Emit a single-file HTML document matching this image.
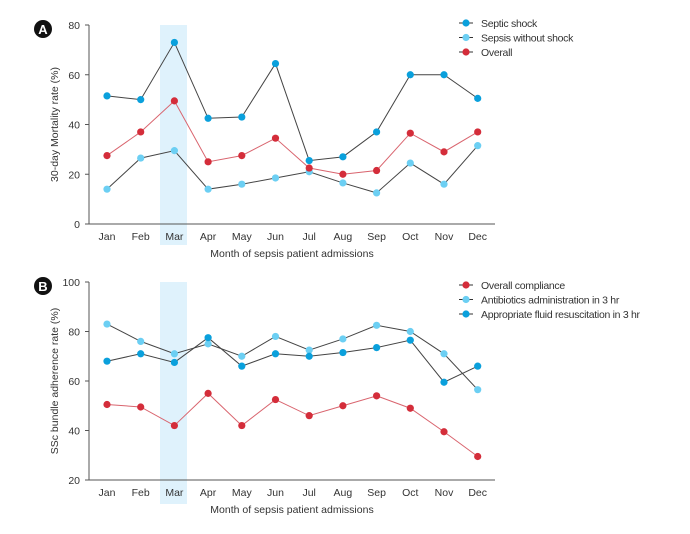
<!DOCTYPE html>
<html><head><meta charset="utf-8"><style>
body{margin:0;background:#fff}
svg text{font-family:"Liberation Sans",sans-serif;fill:#333}
</style></head><body>
<svg id="c" width="690" height="529" xmlns="http://www.w3.org/2000/svg"></svg>
<script>
const months=["Jan","Feb","Mar","Apr","May","Jun","Jul","Aug","Sep","Oct","Nov","Dec"];
const septicShock=[51.5,50,73,42.5,43,64.5,25.5,27,37,60,60,50.5];
const sepsisNoShock=[14,26.5,29.5,14,16,18.5,21,16.5,12.5,24.5,16,31.5];
const overallMortality=[27.5,37,49.5,25,27.5,34.5,22.5,20,21.5,36.5,29,37];
const overallCompliance=[50.5,49.5,42,55,42,52.5,46,50,54,49,39.5,29.5];
const antibiotics=[83,76,71,75,70,78,72.5,77,82.5,80,71,56.5];
const fluid=[68,71,67.5,77.5,66,71,70,71.5,73.5,76.5,59.5,66];
const ticksA=[0,20,40,60,80];
const ticksB=[20,40,60,80,100];
const NS="http://www.w3.org/2000/svg";
const svg=document.getElementById('c');
function el(t,a,p){const e=document.createElementNS(NS,t);for(const k in a)e.setAttribute(k,a[k]);(p||svg).appendChild(e);return e;}
const DB="#0aa0dc",LB="#6ccff3",RD="#d42d3a";
function panel(cfg){
  const g=el('g',{});
  
  
  const x=i=>107+i*33.7;
  const y=v=>cfg.y0-(v-cfg.min)/(cfg.max-cfg.min)*(cfg.y0-cfg.y1);
  const sh=el('rect',{x:160,y:cfg.y1,width:27,height:cfg.shadeB-cfg.y1,fill:"#dff2fc"},g);
  
  el('line',{x1:89,y1:cfg.y1,x2:89,y2:cfg.y0,stroke:"#555"},g);
  el('line',{x1:89,y1:cfg.y0,x2:495,y2:cfg.y0,stroke:"#555"},g);
  cfg.ticks.forEach(t=>{el('line',{x1:85,x2:89,y1:y(t),y2:y(t),stroke:"#555"},g);
    const tx=el('text',{x:80,y:y(t)+4,"text-anchor":"end","font-size":10.5},g);tx.textContent=t;
    });
  months.forEach((m,i)=>{const tx=el('text',{x:x(i),y:cfg.y0+16,"text-anchor":"middle","font-size":10.5},g);tx.textContent=m;
    });
  const xt=el('text',{x:292,y:cfg.y0+33,"text-anchor":"middle","font-size":10.5},g);xt.textContent="Month of sepsis patient admissions";
  
  const yt=el('text',{x:0,y:0,"text-anchor":"middle","font-size":10.5,transform:`translate(58,${(cfg.y0+cfg.y1)/2}) rotate(-90)`},g);yt.textContent=cfg.ytitle;
  
  const c=el('circle',{cx:43,cy:cfg.y1+4,r:9,fill:"#111"},g);
  const bt=el('text',{x:43,y:cfg.y1+9,"text-anchor":"middle","font-size":13,"font-weight":"bold",style:"fill:#fff"},g);bt.textContent=cfg.letter;
  cfg.series.forEach((s,si)=>{
    const pts=s.data.map((v,i)=>x(i)+","+y(v)).join(" ");
    const pl=el('polyline',{points:pts,fill:"none",stroke:s.line,"stroke-width":1},g);
    
    s.data.forEach((v,i)=>{const p=el('circle',{cx:x(i),cy:y(v),r:3.6,fill:s.color},g);
      });
    const ly=cfg.legY+si*14.5;
    el('line',{x1:459,x2:473,y1:ly,y2:ly,stroke:"#333"},g);
    const lc=el('circle',{cx:466,cy:ly,r:3.6,fill:s.color},g);
    
    const lt=el('text',{x:481,y:ly+4,"font-size":10.5,"letter-spacing":"-0.3"},g);lt.textContent=s.label;
    
  });
}
panel({name:'panel-a-mortality',letter:'A',y0:224,y1:25,min:0,max:80,shadeB:245,ticks:ticksA,ytitle:"30-day Mortality rate (%)",legY:23,
 series:[{key:'septic-shock',label:'Septic shock',data:septicShock,color:DB,line:"#444"},
 {key:'sepsis-without-shock',label:'Sepsis without shock',data:sepsisNoShock,color:LB,line:"#444"},
 {key:'overall-mortality',label:'Overall',data:overallMortality,color:RD,line:"#d9646e"}]});
panel({name:'panel-b-adherence',letter:'B',y0:480,y1:282,min:20,max:100,shadeB:504,ticks:ticksB,ytitle:"SSc bundle adherence rate (%)",legY:285,
 series:[{key:'overall-compliance',label:'Overall compliance',data:overallCompliance,color:RD,line:"#d9646e"},
 {key:'antibiotics-3hr',label:'Antibiotics administration in 3 hr',data:antibiotics,color:LB,line:"#444"},
 {key:'fluid-resuscitation-3hr',label:'Appropriate fluid resuscitation in 3 hr',data:fluid,color:DB,line:"#444"}]});
</script>
</body></html>
